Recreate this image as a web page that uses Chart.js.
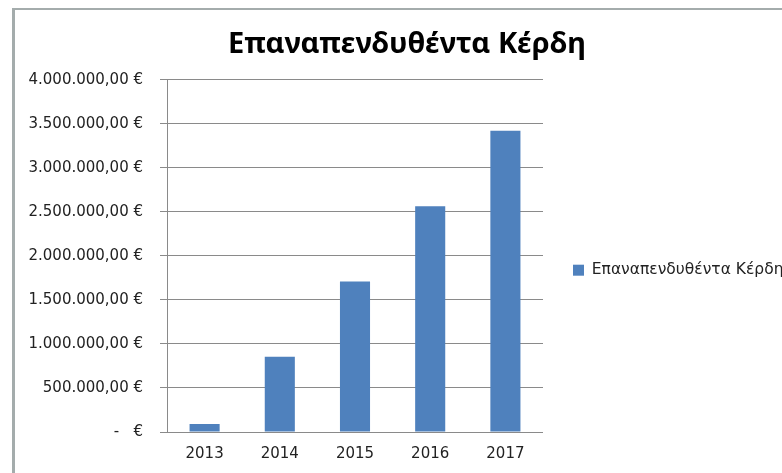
<!DOCTYPE html>
<html>
<head>
<meta charset="utf-8">
<script src="https://cdn.jsdelivr.net/npm/chart.js@4.4.1/dist/chart.umd.min.js"></script>
<style>
  html, body { margin: 0; padding: 0; background: #fff; }
  #wrap { position: relative; width: 782px; height: 473px; overflow: hidden; }
  #frame {
    position: absolute; left: 12px; top: 8px; right: -10px; bottom: -10px;
    border-left: 3px solid #a4acac; border-top: 2px solid #a4acac;
  }
  #profitChart { position: absolute; left: 0; top: 0; }
</style>
</head>
<body>
<div id="wrap">
  <div id="frame"></div>
  <canvas id="profitChart" width="782" height="473"></canvas>
</div>
<script>
// έτη και ποσά (€)
const years = ['2013', '2014', '2015', '2016', '2017'];
const reinvested = [90000, 855000, 1710000, 2565000, 3420000];
const seriesName = 'Επαναπενδυθέντα Κέρδη';
const yTickLabels = ['-   €', '500.000,00 €', '1.000.000,00 €', '1.500.000,00 €', '2.000.000,00 €',
    '2.500.000,00 €', '3.000.000,00 €', '3.500.000,00 €', '4.000.000,00 €'];

const axisFont = { family: 'DejaVu Sans', size: 15 };
const LEGEND_WIDTH = 270;

// το legend παίρνει σταθερό πλάτος ώστε το γράφημα να σταματά στο ίδιο σημείο
const legendWidthFix = {
    id: 'legendWidthFix',
    beforeLayout(chart) {
        const lg = chart.legend;
        if (lg && !lg._fixedWidth) {
            const fit = lg.fit;
            lg.fit = function () {
                fit.call(this);
                this.width = LEGEND_WIDTH;
            };
            lg._fixedWidth = true;
        }
    }
};

const ctx = document.getElementById('profitChart').getContext('2d');
const profitChart = new Chart(ctx, {
    type: 'bar',
    data: {
        labels: years,
        datasets: [{
            label: seriesName,
            data: reinvested,
            backgroundColor: '#4f81bd',
            borderWidth: 0,
            barPercentage: 0.4,
            categoryPercentage: 1.0
        }]
    },
    options: {
        responsive: false,
        animation: false,
        layout: {
            // legend runs a bit past the right edge
            padding: { left: 1, right: -31, top: 0, bottom: 5 }
        },
        plugins: {
            title: {
                display: true,
                text: seriesName,
                color: '#000',
                font: { family: 'Noto Sans', size: 29, weight: 'bold' },
                padding: { top: 27, bottom: 18 }
            },
            legend: {
                position: 'right',
                title: {
                    // empty title, only pushes the item down
                    display: true,
                    text: ' ',
                    font: { size: 12 },
                    padding: { top: 58, bottom: 0 }
                },
                labels: {
                    boxWidth: 11,
                    boxHeight: 11,
                    color: '#222',
                    font: { family: 'DejaVu Sans', size: 15.5 },
                    padding: 30
                }
            },
            tooltip: { enabled: false }
        },
        scales: {
            x: {
                grid: { display: false },
                border: { display: false },
                ticks: { color: '#222', font: axisFont, padding: 5 }
            },
            y: {
                min: 0,
                max: 4000000,
                afterFit: (scale) => { scale.width = 166; },
                grid: { color: '#8a8a8a', lineWidth: 1, tickLength: 7 },
                border: { display: true, color: '#8a8a8a' },
                ticks: {
                    stepSize: 500000,
                    color: '#222',
                    font: axisFont,
                    padding: 17,
                    callback: (value, index) => yTickLabels[index]
                }
            }
        }
    },
    plugins: [legendWidthFix]
});
</script>
</body>
</html>
